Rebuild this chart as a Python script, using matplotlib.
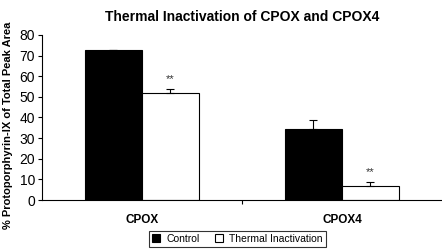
import numpy as np
import matplotlib.pyplot as plt
from matplotlib.ticker import FixedLocator

plt.rcParams['font.family'] = ['Liberation Sans', 'DejaVu Sans']

groups = ['CPOX', 'CPOX4']
control = [72.5, 34.4]
control_err = [0.3, 4.4]
thermal = [51.9, 7.0]
thermal_err = [1.9, 1.7]
stars = ['**', '**']

fig = plt.figure(figsize=(4.42, 2.5), dpi=100)
ax = fig.add_axes([0.095, 0.2, 0.905, 0.66])

x = np.arange(len(groups))
w = 0.285
ax.bar(x - w/2, control, w, color='black', edgecolor='black', linewidth=0.8, label='Control')
ax.bar(x + w/2, thermal, w, color='white', edgecolor='black', linewidth=0.8, label='Thermal Inactivation')
ax.errorbar(x - w/2, control, yerr=[np.zeros(len(x)), control_err], fmt='none',
            ecolor='black', elinewidth=0.8, capsize=3, capthick=0.8)
ax.errorbar(x + w/2, thermal, yerr=[np.zeros(len(x)), thermal_err], fmt='none',
            ecolor='black', elinewidth=0.8, capsize=3, capthick=0.8)
for xi, v, e, s in zip(x, thermal, thermal_err, stars):
    ax.text(xi + w/2, v + e + 2.5, s, ha='center', va='bottom', fontsize=8, color='#333333')

ax.set_xlim(-0.5, 1.5)
ax.set_ylim(0, 80)
ax.set_yticks(range(0, 81, 10))
ax.set_xticks(x)
ax.set_xticklabels(groups, fontweight='bold', fontsize=8.5)
ax.xaxis.set_minor_locator(FixedLocator([0.5]))
ax.tick_params(axis='x', which='major', length=0, pad=10)
ax.tick_params(axis='x', which='minor', length=3, width=0.8, direction='out')
ax.tick_params(axis='y', length=3, width=0.8, direction='out', labelsize=10, pad=2)
for side in ['top', 'right']:
    ax.spines[side].set_visible(False)
for side in ['left', 'bottom']:
    ax.spines[side].set_linewidth(0.8)

ax.set_title('Thermal Inactivation of CPOX and CPOX4', fontweight='bold', fontsize=10, pad=10)
fig.text(0.018, 0.5, '% Protoporphyrin-IX of Total Peak Area', rotation=90, ha='center', va='center',
         fontweight='bold', fontsize=8)

leg = fig.legend(loc='center', bbox_to_anchor=(0.537, 0.045), ncol=2, frameon=True, fancybox=False,
                 edgecolor='black', fontsize=7.5, handlelength=0.8, handleheight=0.8,
                 handletextpad=0.6, columnspacing=1.4, borderpad=0.3)
leg.get_frame().set_linewidth(0.8)

fig.savefig('out.png', dpi=100)
